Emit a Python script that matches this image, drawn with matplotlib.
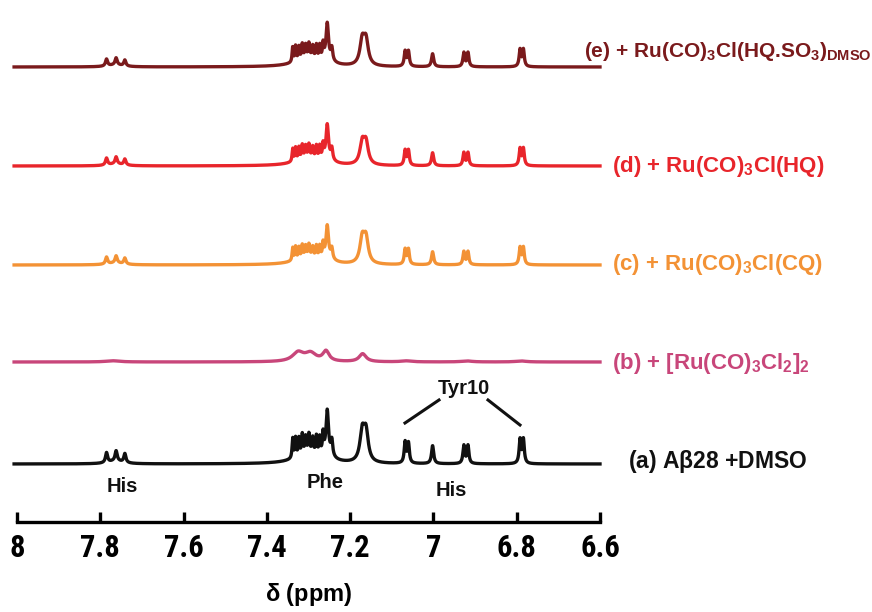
import numpy as np
import matplotlib
matplotlib.use("Agg")
import matplotlib.pyplot as plt
from matplotlib.lines import Line2D

plt.rcParams['font.family'] = ['Liberation Sans', 'DejaVu Sans']
plt.rcParams['font.weight'] = 'bold'
plt.rcParams['mathtext.default'] = 'regular'

# ---------------- data ----------------
# sharp peaks (ppm), half widths (ppm)
PEAK_PPM = [7.785, 7.762, 7.741,
            7.338, 7.331, 7.323, 7.315, 7.307, 7.299, 7.290, 7.281, 7.273, 7.265,
            7.255, 7.244,
            7.171, 7.162,
            7.068, 7.060, 7.002, 6.927, 6.917, 6.792, 6.784]
PEAK_HW = [0.003, 0.003, 0.003,
           0.0017, 0.0017, 0.0017, 0.0017, 0.0017, 0.0017, 0.0017, 0.0017, 0.0017, 0.0017,
           0.0032, 0.0025,
           0.0065, 0.0065,
           0.0026, 0.0026, 0.003, 0.0026, 0.0026, 0.0026, 0.0026]
HEIGHTS_A = [10, 10, 9,
             20, 19, 17, 19, 15, 17, 14, 17, 16, 19,
             40, 15,
             29, 29,
             21, 20, 18, 18, 18, 24, 24]
HEIGHTS_C = [7, 7, 6,
             13, 13, 11, 12, 10, 11, 9, 11, 11, 13,
             29, 10,
             24, 24,
             15, 15, 13, 13, 13, 17, 17]
HEIGHTS_D = [7, 7, 6,
             13, 13, 12, 13, 11, 12, 10, 12, 12, 13,
             31, 11,
             21, 21,
             15, 15, 13, 13, 13, 17, 17]
HEIGHTS_E = [7, 7, 6,
             15, 15, 13, 14, 12, 13, 11, 13, 13, 14,
             33, 12,
             24, 24,
             15, 15, 13, 14, 14, 17, 17]
# broad underlying humps
BROAD_PPM = [7.763, 7.300, 7.255]
BROAD_HW = [0.02, 0.032, 0.012]
BROAD_A = [3, 12, 9]
BROAD_C = [2, 9, 7]
BROAD_D = [2, 9, 7]
BROAD_E = [2, 10, 7]
# spectrum (b): only broad signals
B_PPM = [7.77, 7.325, 7.295, 7.258, 7.17, 7.065, 6.92, 6.79]
B_HW = [0.02, 0.016, 0.016, 0.009, 0.010, 0.015, 0.015, 0.015]
HEIGHTS_B = [1.2, 9, 8, 10, 8, 1.0, 1.0, 1.0]

SERIES = ['a', 'b', 'c', 'd', 'e']
OFFSETS = [58, 160, 257, 356, 455]
COLORS = ['#111111', '#c8467a', '#f39235', '#e8252b', '#7a1a1c']
LABELS = [r'(a) A$\beta$28 +DMSO',
          r'(b) + [Ru(CO)$_3$Cl$_2$]$_2$',
          r'(c) + Ru(CO)$_3$Cl(CQ)',
          r'(d) + Ru(CO)$_3$Cl(HQ)',
          r'(e) + Ru(CO)$_3$Cl(HQ.SO$_3$)$_{DMSO}$']
XTICKS = [8, 7.8, 7.6, 7.4, 7.2, 7, 6.8, 6.6]
XTICKLABELS = ['8', '7.8', '7.6', '7.4', '7.2', '7', '6.8', '6.6']

NARROW = ['Roboto Condensed', 'Liberation Sans Narrow', 'Liberation Sans']

W, H = 872, 612
fig = plt.figure(figsize=(W / 100, H / 100), dpi=100)
ax = fig.add_axes([17 / W, (H - 522) / H, (600 - 17) / W, 522 / H])
ax.set_xlim(8, 6.6)
ax.set_ylim(0, 522)


def spectrum(x, pos, hw, hts):
    y = np.zeros_like(x)
    for p, w, h in zip(pos, hw, hts):
        y += h / (1 + ((x - p) / w) ** 2)
    return y


x = np.linspace(8.007, 6.6, 4000)
sharp = {'a': HEIGHTS_A, 'c': HEIGHTS_C, 'd': HEIGHTS_D, 'e': HEIGHTS_E}
broad = {'a': BROAD_A, 'c': BROAD_C, 'd': BROAD_D, 'e': BROAD_E}
for s, off, col in zip(SERIES, OFFSETS, COLORS):
    if s == 'b':
        y = spectrum(x, B_PPM, B_HW, HEIGHTS_B)
    else:
        y = spectrum(x, PEAK_PPM, PEAK_HW, sharp[s]) + spectrum(x, BROAD_PPM, BROAD_HW, broad[s])
    ax.plot(x, y + off, color=col, lw=2.4, clip_on=False, solid_joinstyle='round')

for sp in ['top', 'left', 'right']:
    ax.spines[sp].set_visible(False)
ax.spines['bottom'].set_linewidth(2.4)
ax.set_yticks([])
ax.set_xticks(XTICKS)
ax.set_xticklabels(XTICKLABELS, family=NARROW, fontsize=22, fontweight='bold')
ax.tick_params(axis='x', direction='in', length=7.5, width=2.4, pad=8)
ax.set_xlabel(r'$\delta$ (ppm)', family=['Liberation Sans', 'DejaVu Sans'], fontsize=17,
              fontweight='bold', labelpad=13)


def ft(xp, yp, s, **kw):
    fig.text(xp / W, 1 - yp / H, s, **kw)


label_pos = [(628, 468), (612, 369), (612, 270), (612, 172), (584, 57)]
label_size = [16.5, 16, 16, 16, 15]
for (lx, ly), lab, col, fs in zip(label_pos, LABELS, COLORS, label_size):
    ft(lx, ly, lab, color=col, fontsize=fs, fontweight='bold', va='baseline', ha='left')

ann = [('His', 122, 487), ('Phe', 325, 483), ('His', 451, 491), ('Tyr10', 464, 388)]
for t, ax_, ay in ann:
    ft(ax_, ay, t, fontsize=14.5, fontweight='bold', ha='center', va='center', color='#111111')

for (x0, y0, x1, y1) in [(405, 423, 439, 400), (488, 400, 520, 425)]:
    fig.add_artist(Line2D([x0 / W, x1 / W], [1 - y0 / H, 1 - y1 / H], color='#111111', lw=2.2,
                          transform=fig.transFigure))

fig.savefig('out.png', dpi=100)
